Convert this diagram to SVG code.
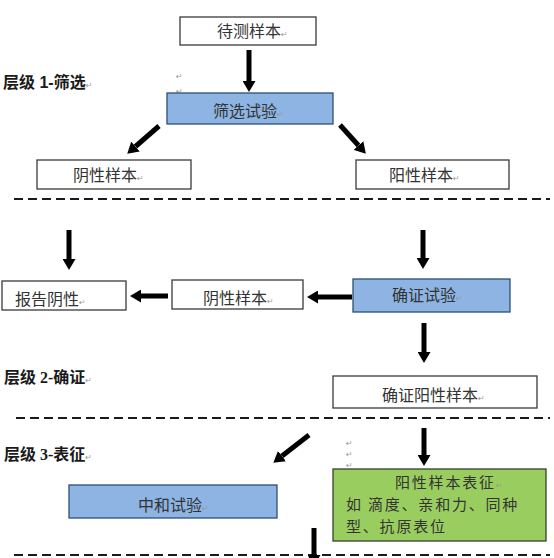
<svg xmlns="http://www.w3.org/2000/svg" width="554" height="558" viewBox="0 0 554 558">
  <style>
    .box { fill: #ffffff; stroke: #3a3a3a; stroke-width: 1.3; }
    .blue { fill: #8db4e2; stroke: #2f4f73; stroke-width: 1.3; }
    .green { fill: #9acd5f; stroke: #36402a; stroke-width: 1.3; }
    .lbl { font-family: "Noto Sans CJK SC", "Noto Sans", sans-serif; font-size: 16px; fill: #333333; }
    .sm { font-size: 15px; letter-spacing: 1.8px; }
    .lvl { font-family: "Liberation Sans", "Noto Sans CJK SC", sans-serif; font-size: 16px; font-weight: bold; fill: #1a1a1a; }
    .lvl2 { font-family: "Liberation Serif", "Noto Sans CJK SC", serif; font-size: 16px; font-weight: bold; fill: #1a1a1a; }
    .ret { font-family: "DejaVu Sans", sans-serif; font-size: 8px; fill: #9a9a9a; font-weight: normal; letter-spacing: 0; }
    .dash { stroke: #1a1a1a; stroke-width: 2; stroke-dasharray: 9 5; fill: none; }
    .arr { stroke: #000000; stroke-width: 5; fill: none; marker-end: url(#head); }
  </style>
  <defs>
    <marker id="head" markerUnits="userSpaceOnUse" markerWidth="11" markerHeight="13" refX="0" refY="6.5" orient="auto">
      <path d="M0,0 L11,6.5 L0,13 Z" fill="#000000"/>
    </marker>
  </defs>
  <rect width="554" height="558" fill="#ffffff"/>

  <!-- dashed separators -->
  <g id="separators">
    <line class="dash" x1="14" y1="199" x2="550" y2="199"/>
    <line class="dash" x1="16" y1="418" x2="550" y2="418"/>
    <line class="dash" x1="14" y1="555" x2="550" y2="555"/>
  </g>

  <!-- level labels -->
  <g id="levels">
    <text class="lvl" x="3" y="88">层级 1-筛选<tspan class="ret">↵</tspan></text>
    <text class="lvl2" x="4" y="383">层级 2-确证<tspan class="ret">↵</tspan></text>
    <text class="lvl2" x="4" y="460">层级 3-表征<tspan class="ret">↵</tspan></text>
  </g>

  <!-- stray paragraph marks -->
  <g id="marks">
    <text class="ret" x="176" y="79">↵</text>
    <text class="ret" x="176" y="94">↵</text>
    <text class="ret" x="346" y="446">↵</text>
    <text class="ret" x="346" y="457">↵</text>
    <text class="ret" x="346" y="468">↵</text>
  </g>

  <g id="connectors">
    <line class="arr" x1="249" y1="50" x2="249" y2="81"/>
    <line class="arr" x1="159" y1="126" x2="135.5" y2="146.5"/>
    <line class="arr" x1="340" y1="125" x2="358.5" y2="145.5"/>
    <line class="arr" x1="69" y1="230" x2="69" y2="259"/>
    <line class="arr" x1="423" y1="230" x2="423" y2="258"/>
    <line class="arr" x1="352" y1="297" x2="318" y2="297"/>
    <line class="arr" x1="168" y1="296" x2="141" y2="296"/>
    <line class="arr" x1="424" y1="323" x2="424" y2="352"/>
    <line class="arr" x1="424" y1="428" x2="424" y2="455"/>
    <line class="arr" x1="309" y1="435" x2="282" y2="456"/>
    <line class="arr" x1="314" y1="528" x2="314" y2="555"/>
  </g>

  <g id="n-sample">
    <rect class="box" x="180" y="17" width="136" height="28"/>
    <text class="lbl" x="217" y="37">待测样本<tspan class="ret">↵</tspan></text>
  </g>
  <g id="n-screen">
    <rect class="blue" x="167" y="93" width="166" height="31"/>
    <text class="lbl" x="213" y="117">筛选试验<tspan class="ret">↵</tspan></text>
  </g>
  <g id="n-neg1">
    <rect class="box" x="37" y="160" width="154" height="29"/>
    <text class="lbl" x="73" y="181">阴性样本<tspan class="ret">↵</tspan></text>
  </g>
  <g id="n-pos1">
    <rect class="box" x="356" y="160" width="153" height="29"/>
    <text class="lbl" x="389" y="181">阳性样本<tspan class="ret">↵</tspan></text>
  </g>
  <g id="n-report">
    <rect class="box" x="2" y="281" width="124" height="29"/>
    <text class="lbl" x="15" y="305">报告阴性<tspan class="ret">↵</tspan></text>
  </g>
  <g id="n-neg2">
    <rect class="box" x="172" y="280" width="131" height="29"/>
    <text class="lbl" x="203" y="304">阴性样本<tspan class="ret">↵</tspan></text>
  </g>
  <g id="n-confirm">
    <rect class="blue" x="353" y="279" width="157" height="33"/>
    <text class="lbl" x="392" y="301">确证试验<tspan class="ret">↵</tspan></text>
  </g>
  <g id="n-confpos">
    <rect class="box" x="333" y="376" width="204" height="32"/>
    <text class="lbl" x="382" y="401">确证阳性样本<tspan class="ret">↵</tspan></text>
  </g>
  <g id="n-neutral">
    <rect class="blue" x="69" y="485" width="208" height="33"/>
    <text class="lbl" x="138" y="511">中和试验<tspan class="ret">↵</tspan></text>
  </g>
  <g id="n-charact">
    <rect class="green" x="333" y="469" width="213" height="72"/>
    <text class="lbl sm" x="395" y="488">阳性样本表征<tspan class="ret">↵</tspan></text>
    <text class="lbl sm" x="346" y="510">如 滴度、亲和力、同种</text>
    <text class="lbl sm" x="346" y="532">型、抗原表位</text>
  </g>
</svg>
